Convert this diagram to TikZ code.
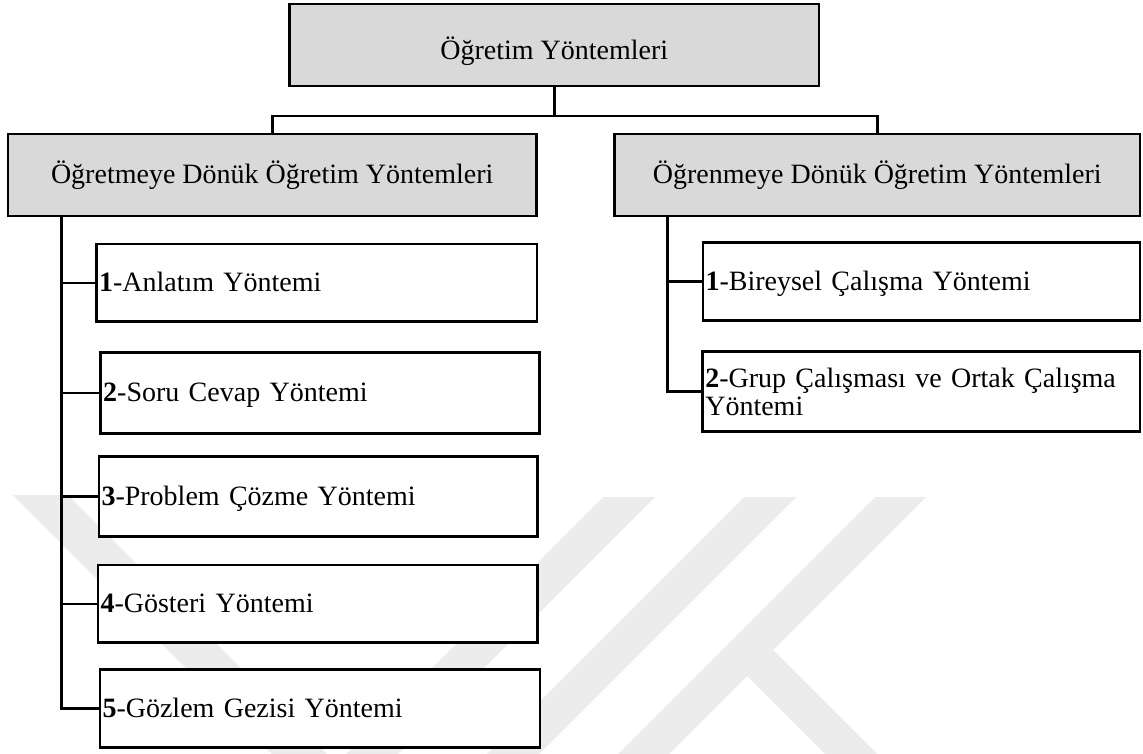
\documentclass[tikz,border=0pt]{standalone}
\usepackage{fontspec}
\setmainfont{Liberation Serif}
\newcommand{\chartfont}{\fontsize{28}{28.5}\selectfont}
\definecolor{headgray}{RGB}{217,217,217}
\definecolor{markgray}{RGB}{236,236,236}
\begin{document}
\begin{tikzpicture}[x=1pt,y=-1pt,
  box/.style={draw=black, line width=2.7pt, outer sep=0pt, font=\chartfont},
  head/.style={box, fill=headgray, align=center, inner sep=0pt},
  item/.style={box, fill=white, align=left, inner xsep=2.5pt, inner ysep=0pt, anchor=west},
  oneline/.style={text height=23pt, text depth=6pt},
  link/.style={line width=2.7pt},
  emblem/.style={fill=markgray, draw=none}]

\useasboundingbox (0,0) rectangle (1143,754);

% faint emblem in the background
\begin{scope}
  \clip (0,0) rectangle (1143,754);
  \path[emblem] (13,495) -- (68,495) -- (340,767) -- (285,767) -- cycle;
  \path[emblem] (603,497) -- (655,497) -- (385,767) -- (333,767) -- cycle;
  \path[emblem] (744,497) -- (796,497) -- (526,767) -- (474,767) -- cycle;
  \path[emblem] (875,497) -- (926,497) -- (656,767) -- (605,767) -- cycle;
  \path[emblem] (746,675) -- (771,648) -- (890,767) -- (838,767) -- cycle;
\end{scope}

% headings
\node[head, minimum width=529.5pt, minimum height=82pt, text height=36pt, text depth=6pt]
  (top) at (554.25,45) {Öğretim Yöntemleri};
\node[head, minimum width=528.5pt, minimum height=82pt, text height=24pt, text depth=6pt]
  (lg) at (272.25,175) {Öğretmeye Dönük Öğretim Yöntemleri};
\node[head, minimum width=525.5pt, minimum height=82pt, text height=24pt, text depth=6pt]
  (rg) at (877.25,175) {Öğrenmeye Dönük Öğretim Yöntemleri};

% teacher-centred methods
\node[item, oneline, text width=435.5pt, minimum height=77.7pt] (b1) at (96.5,282.9) {\textbf{1}-Anlatım Yöntemi};
\node[item, oneline, text width=433.8pt, minimum height=80.6pt] (b2) at (100.7,393) {\textbf{2}-Soru Cevap Yöntemi};
\node[item, oneline, text width=433.7pt, minimum height=80pt] (b3) at (99,496.7) {\textbf{3}-Problem Çözme Yöntemi};
\node[item, oneline, text width=434.7pt, minimum height=77.7pt] (b4) at (98,603.9) {\textbf{4}-Gösteri Yöntemi};
\node[item, oneline, text width=435pt, minimum height=78.4pt] (b5) at (100,708.5) {\textbf{5}-Gözlem Gezisi Yöntemi};

% learner-centred methods
\node[item, oneline, text width=432pt, minimum height=78pt] (r1) at (703,281.7) {\textbf{1}-Bireysel Çalışma Yöntemi};
\node[item, text width=432.2pt, minimum height=80pt] (r2) at (702.8,391.7) {\textbf{2}-Grup Çalışması ve Ortak Çalışma\\Yöntemi};

% connectors
\coordinate (bar) at (554.25,116);
\draw[link] (top.south) -- (bar);
\draw[link] (lg.north) |- (bar) -| (rg.north);

\coordinate (lt) at (61.5,216);
\draw[link] (lt) |- (b5.west);
\foreach \n in {b1,b2,b3,b4}
  \draw[link] (lt |- \n.west) -- (\n.west);

\coordinate (rt) at (667.5,216);
\draw[link] (rt) |- (r2.west);
\draw[link] (rt |- r1.west) -- (r1.west);
\end{tikzpicture}
\end{document}
